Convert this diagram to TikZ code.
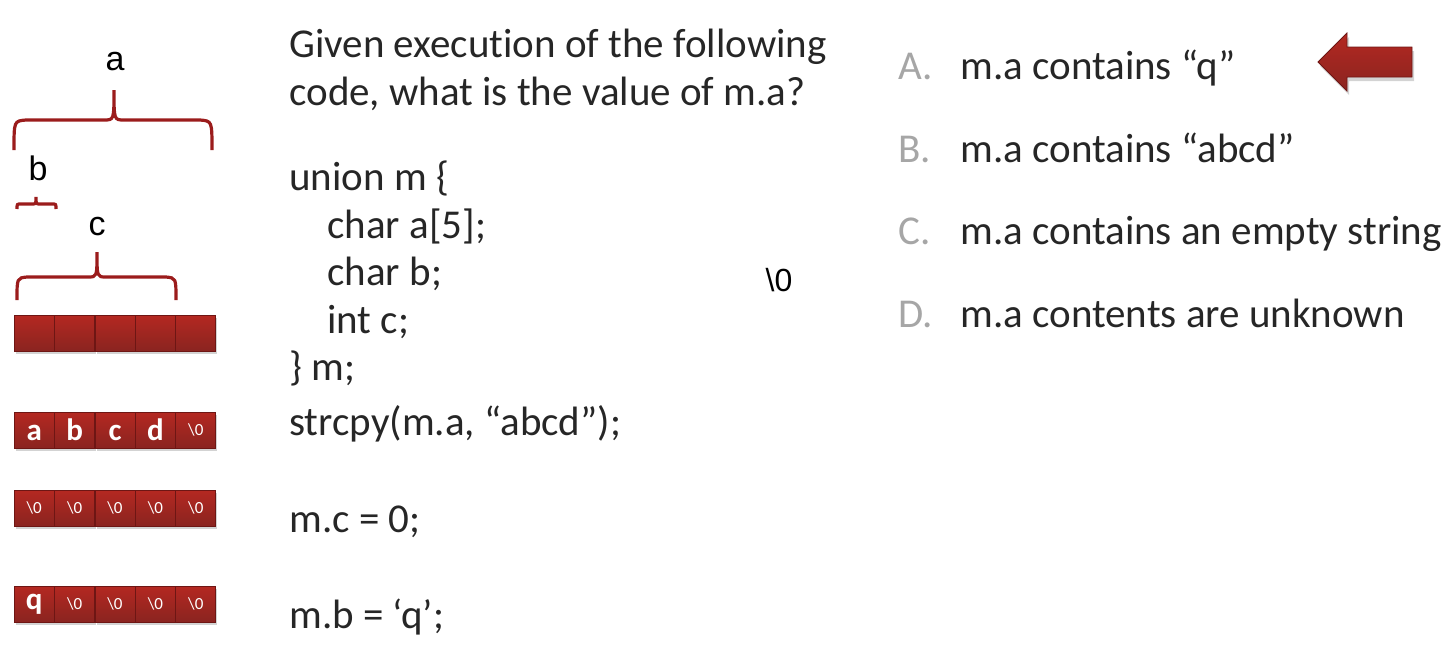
\documentclass[tikz,border=0pt]{standalone}
\usepackage{fontspec}
\setmainfont{Carlito}[Ligatures=NoCommon]
\newfontfamily\arialfont{Liberation Sans}
\usepackage{tikz}
\usetikzlibrary{shadows}
\usepackage{xcolor}
\definecolor{bracered}{RGB}{155,28,28}
\definecolor{celltop}{RGB}{180,40,33}
\definecolor{cellbot}{RGB}{138,36,32}
\definecolor{celledge}{RGB}{110,22,20}
\definecolor{textdark}{RGB}{38,38,38}
\definecolor{lettergray}{RGB}{166,166,166}

\begin{document}
\begin{tikzpicture}[x=0.5pt, y=-0.5pt,
    brace/.style={draw=bracered, line width=1.6pt},
    lbl/.style={font=\arialfont\fontsize{17}{20}\selectfont},
    cell/.style={draw=celledge, line width=0.4pt, top color=celltop, bottom color=cellbot,
        minimum width=20pt, minimum height=18pt, inner sep=0pt, text=white,
        drop shadow={shadow xshift=0.8pt, shadow yshift=-1.5pt, opacity=0.35}},
    big/.style={font=\bfseries\fontsize{15.5}{16}\selectfont},
    nul/.style={font=\fontsize{8.5}{9}\selectfont},
    line/.style={anchor=base west, text=textdark, font=\fontsize{20.5}{24}\selectfont, inner sep=0pt},
    letter/.style={anchor=base west, text=lettergray, font=\fontsize{20.5}{24}\selectfont, inner sep=0pt}]
        \useasboundingbox (0,0) rectangle (1446,664);

        % Draw the braces
        \draw[brace] (14,150) .. controls (14,121) .. (26,120) -- (104,120)
            .. controls (114,120) .. (114,90) .. controls (114,120) .. (124,120)
            -- (200,120) .. controls (212,121) .. (212,150);
        \draw[brace] (17,209) .. controls (17,204) .. (21,204) -- (32,204)
            .. controls (36,204) .. (36,197) .. controls (36,204) .. (40,204)
            -- (52,204) .. controls (56,204) .. (56,209);
        \draw[brace] (17,300) .. controls (17,278) .. (27,277) -- (88,277)
            .. controls (97,277) .. (97,252) .. controls (97,277) .. (106,277)
            -- (166,277) .. controls (176,278) .. (176,300);
        \node[lbl] (la) at (115,62) {a};
        \node[lbl] (lb) at (38,168) {b};
        \node[lbl] (lc) at (97,227) {c};

        % Draw the memory cells
        \foreach \i in {1,...,5}
            \node[cell] (e\i) at (14+40.4*\i-20.2,333) {};
        \foreach \txt/\sty [count=\i] in {a/big,b/big,c/big,d/big,\textbackslash0/nul}
            \node[cell,\sty] (s\i) at (14+40.4*\i-20.2,430) {\txt\vphantom{b}};
        \foreach \i in {1,...,5}
            \node[cell,nul] (z\i) at (14+40.4*\i-20.2,508) {\textbackslash0};
        \foreach \txt/\sty [count=\i] in {q/big,\textbackslash0/nul,\textbackslash0/nul,\textbackslash0/nul,\textbackslash0/nul}
            \node[cell,\sty] (q\i) at (14+40.4*\i-20.2,604) {\txt};

        % The question and the code
        \node[line] (q1) at (289,57) {Given execution of the following};
        \node[line] (q2) at (289,105) {code, what is the value of m.a?};
        \node[line] (c1) at (289,190) {union m \{};
        \node[line] (c2) at (327,238) {char a[5];};
        \node[line] (c3) at (327,285) {char b;};
        \node[line] (c4) at (327,333) {int c;};
        \node[line] (c5) at (289,380) {\} m;};
        \node[line] (c6) at (289,435) {strcpy(m.a, “abcd”);};
        \node[line] (c7) at (289,532) {m.c = 0;};
        \node[line] (c8) at (289,628) {m.b = ‘q’;};
        \node[font=\arialfont\fontsize{16}{18}\selectfont] (nul) at (779,280) {\textbackslash0};

        % The answers
        \node[letter] (optA) at (898,79) {A.};
        \node[line] (ansA) at (960,79) {m.a contains “q”};
        \node[letter] (optB) at (898,162) {B.};
        \node[line] (ansB) at (960,162) {m.a contains “abcd”};
        \node[letter] (optC) at (898,244) {C.};
        \node[line] (ansC) at (960,244) {m.a contains an empty string};
        \node[letter] (optD) at (898,327) {D.};
        \node[line] (ansD) at (960,327) {m.a contents are unknown};

        % Draw the pointer arrow
        \path[draw=celledge, line width=0.4pt, top color=celltop, bottom color=cellbot,
            drop shadow={shadow xshift=1pt, shadow yshift=-2pt, opacity=0.35}]
            (1318,62) -- (1347,33) -- (1347,47) -- (1412,47) -- (1412,77)
            -- (1347,77) -- (1347,91) -- cycle;
    \end{tikzpicture}
\end{document}
